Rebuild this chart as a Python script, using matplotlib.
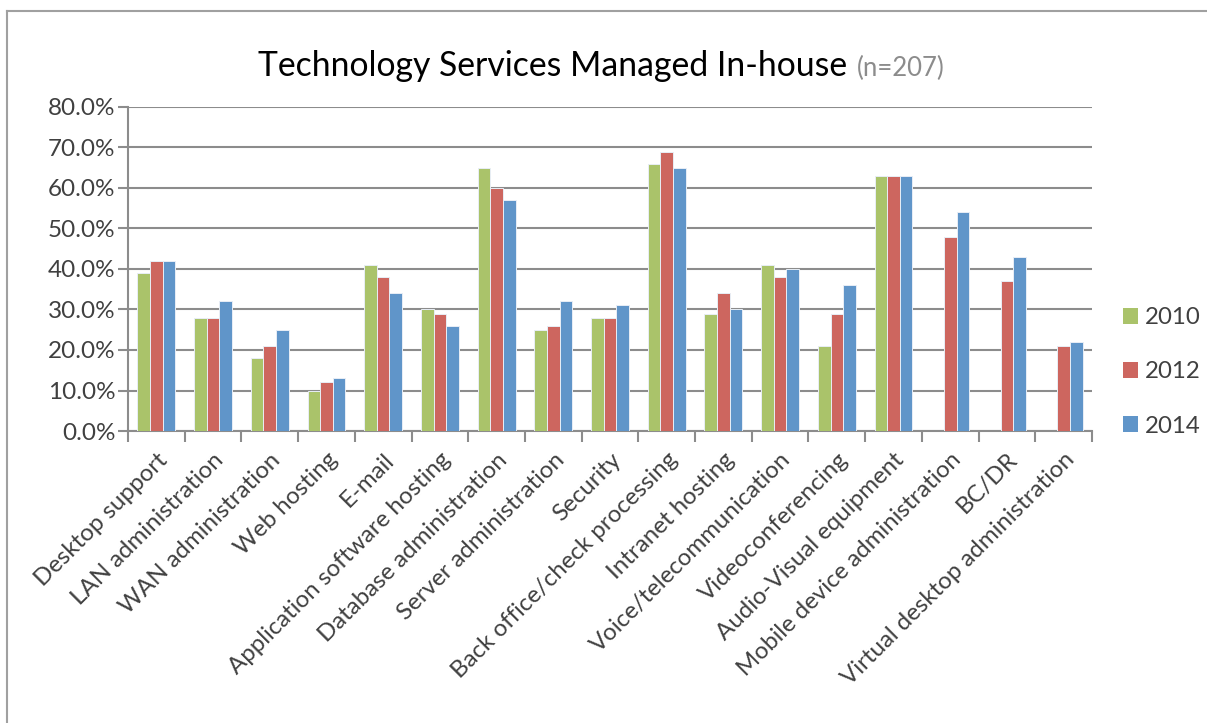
import numpy as np
import matplotlib
matplotlib.use('Agg')
import matplotlib.pyplot as plt
from matplotlib.lines import Line2D
from matplotlib.patches import Patch
from matplotlib.ticker import FuncFormatter

categories = ['Desktop support', 'LAN administration', 'WAN administration', 'Web hosting',
              'E-mail', 'Application software hosting', 'Database administration',
              'Server administration', 'Security', 'Back office/check processing',
              'Intranet hosting', 'Voice/telecommunication', 'Videoconferencing',
              'Audio-Visual equipment', 'Mobile device administration', 'BC/DR',
              'Virtual desktop administration']
v2010 = [39, 28, 18, 10, 41, 30, 65, 25, 28, 66, 29, 41, 21, 63, np.nan, np.nan, np.nan]
v2012 = [42, 28, 21, 12, 38, 29, 60, 26, 28, 69, 34, 38, 29, 63, 48, 37, 21]
v2014 = [42, 32, 25, 13, 34, 26, 57, 32, 31, 65, 30, 40, 36, 63, 54, 43, 22]
years = ['2010', '2012', '2014']
colors = ['#AAC36A', '#CD665F', '#6095C9']

plt.rcParams['font.family'] = ['Lato', 'DejaVu Sans']
W, H = 1207, 723
fig = plt.figure(figsize=(W / 100, H / 100), dpi=100)
ax = fig.add_axes([128 / W, 1 - 431 / H, (1092 - 128) / W, (431 - 107) / H])

x = np.arange(len(categories))
bw = 0.223
for k, (vals, c) in enumerate(zip([v2010, v2012, v2014], colors)):
    ax.bar(x + (k - 1) * bw, vals, bw, color=c, edgecolor='#e8eef6', linewidth=0.7, zorder=3)

ax.set_xlim(-0.5, len(categories) - 0.5)
ax.set_ylim(0, 80)
ax.set_yticks(np.arange(0, 81, 10))
ax.yaxis.set_major_formatter(FuncFormatter(lambda v, p: '%.1f%%' % v))
ax.grid(axis='y', color='#8c8c8c', linewidth=1.5, zorder=0)
ax.set_axisbelow(True)
for s in ['top', 'right']:
    ax.spines[s].set_visible(False)
for s in ['left', 'bottom']:
    ax.spines[s].set_color('#8c8c8c')
    ax.spines[s].set_linewidth(1.5)

ax.set_xticks(x)
ax.set_xticklabels(categories, rotation=45, ha='right', rotation_mode='anchor',
                   fontsize=17.3, color='#404040')
ax.tick_params(axis='x', which='major', length=0, pad=13)
ax.set_xticks(np.arange(-0.5, len(categories)), minor=True)
ax.tick_params(axis='x', which='minor', length=8, width=1.5, color='#8c8c8c')
ax.tick_params(axis='y', length=7, width=1.5, color='#8c8c8c', labelsize=17.5,
               labelcolor='#404040', pad=2)

handles = [Patch(facecolor=c, edgecolor='none') for c in colors]
fig.legend(handles, years, loc='center left', bbox_to_anchor=(1101 / W, 1 - 372 / H),
           frameon=False, fontsize=17.3, labelcolor='#404040', handlelength=0.62,
           handleheight=0.62, handletextpad=0.3, labelspacing=1.38)

# title in two parts
t1 = fig.text(258 / W, 1 - 76 / H, 'Technology Services Managed In-house', fontsize=24.3,
              color='black', ha='left', va='baseline')
fig.canvas.draw()
bb = t1.get_window_extent()
fig.text((bb.x1 + 10) / W, 1 - 76 / H, '(n=207)', fontsize=18.5, color='#8c8c8c',
         ha='left', va='baseline')

# outer frame
fig.add_artist(Line2D([7 / W, 7 / W], [0, 1 - 11 / H], transform=fig.transFigure,
                      color='#a0a0a0', linewidth=1.5))
fig.add_artist(Line2D([7 / W, 1], [1 - 11 / H, 1 - 11 / H], transform=fig.transFigure,
                      color='#a0a0a0', linewidth=1.5))

fig.savefig('out.png', dpi=100)
